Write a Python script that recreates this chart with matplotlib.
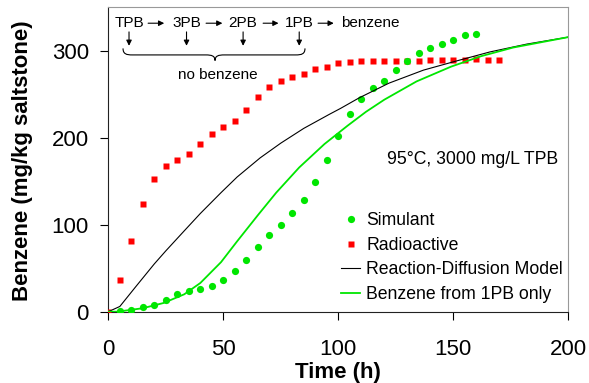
import matplotlib
matplotlib.use("Agg")
import matplotlib.pyplot as plt
from matplotlib.path import Path
from matplotlib.patches import PathPatch
from matplotlib.lines import Line2D

plt.rcParams["font.family"] = ["Liberation Sans", "DejaVu Sans"]

C_GREEN = "#00e600"
C_RED = "#ff0000"

# --- data ------------------------------------------------------------------
rad_time = [0, 5, 10, 15, 20, 25, 30, 35, 40, 45, 50, 55, 60, 65, 70, 75, 80, 85,
            90, 95, 100, 105, 110, 115, 120, 125, 130, 135, 140, 145, 150, 155,
            160, 165, 170]
rad_benz = [0, 36, 81, 124, 153, 168, 174, 181, 193, 204, 212, 219, 232, 247, 259,
            265, 270, 274, 279, 282, 286, 287, 288, 288.5, 288.5, 288.5, 289, 289,
            290, 290, 290, 290, 291, 290, 290]

sim_time = [5, 10, 15, 20, 25, 30, 35, 40, 45, 50, 55, 60, 65, 70, 75, 80, 85, 90,
            95, 100, 105, 110, 115, 120, 125, 130, 135, 140, 145, 150, 155, 160]
sim_benz = [1, 2, 5, 8, 14, 20, 24, 26, 30, 36, 47, 60, 74, 88, 100, 114, 129, 149,
            174, 202, 227, 245, 257, 266, 278, 289, 298, 303, 308, 313, 318, 320]

rd_time = [0, 5, 12, 20, 25, 33, 40, 49, 56, 66, 75, 85, 96, 101, 109, 122, 137,
           152, 166, 182, 200]
rd_benz = [0, 6, 29, 55, 70, 93, 113, 137, 155, 177, 194, 211, 227, 234, 246, 263,
           278, 289, 299, 308, 316]

pb1_time = [0, 4, 15, 24, 33, 40, 49, 56, 65, 73, 83, 94, 104, 112, 120, 134, 149,
            162, 176, 200]
pb1_benz = [0, 0, 4, 10, 20, 33, 57, 81, 111, 137, 166, 193, 214, 230, 244, 265, 282,
            294, 304, 316]

species = ["TPB", "3PB", "2PB", "1PB"]
species_x = [9, 34, 58.6, 83]

# --- figure ----------------------------------------------------------------
fig = plt.figure(figsize=(5.89, 3.83), dpi=100)
ax = fig.add_axes([0.1839, 0.1862, 0.781, 0.7963])

ax.plot(rad_time, rad_benz, "s", color=C_RED, ms=3.8, mec="none", zorder=3)
ax.plot(sim_time, sim_benz, "o", color=C_GREEN, ms=5.2, mec="none", zorder=4)
ax.plot(rd_time, rd_benz, "-", color="black", lw=0.8, zorder=5)
ax.plot(pb1_time, pb1_benz, "-", color=C_GREEN, lw=1.3, zorder=6)

ax.set_xlim(0, 200)
ax.set_ylim(0, 351)
ax.set_xticks([0, 50, 100, 150, 200])
ax.set_yticks([0, 100, 200, 300])
ax.tick_params(direction="out", length=6, width=0.8, labelsize=16)
ax.tick_params(axis="x", pad=14)
ax.tick_params(axis="y", pad=8)

for s in ["left", "bottom"]:
    ax.spines[s].set_color("#222222")
for s in ["top", "right"]:
    ax.spines[s].set_color("#999999")

ax.set_xlabel("Time (h)", fontsize=16, fontweight="bold")
ax.set_ylabel("Benzene (mg/kg saltstone)", fontsize=16, fontweight="bold")
ax.xaxis.set_label_coords(0.4995, -0.198)
ax.xaxis.label.set_va("center")
ax.yaxis.set_label_coords(-0.1876, 0.494)
ax.yaxis.label.set_va("center")

# --- reaction scheme --------------------------------------------------------
arr = dict(arrowstyle="-|>", color="black", lw=0.8, mutation_scale=8,
           shrinkA=0, shrinkB=0)
for name, x in zip(species, species_x):
    ax.text(x, 332, name, fontsize=11, ha="center", va="center")
    ax.annotate("", xy=(x, 306), xytext=(x, 322), arrowprops=arr)
ax.text(101.2, 332, "benzene", fontsize=11, ha="left", va="center")
for x0, x1 in [(17.3, 24.3), (42.5, 49.6), (67.3, 74.0), (91.2, 98.0)]:
    ax.annotate("", xy=(x1, 332), xytext=(x0, 332), arrowprops=arr)

# curly brace under the intermediates
x0, x1, xm = 6.4, 85.5, 46.4
ytop, yh, ytip = 303, 295.5, 289
verts = [(x0, ytop), (x0, yh + 1), (x0 + 1.5, yh), (x0 + 4, yh),
         (xm - 4, yh),
         (xm - 1.5, yh), (xm, yh - 1), (xm, ytip),
         (xm, yh - 1), (xm + 1.5, yh), (xm + 4, yh),
         (x1 - 4, yh),
         (x1 - 1.5, yh), (x1, yh + 1), (x1, ytop)]
codes = [Path.MOVETO, Path.CURVE4, Path.CURVE4, Path.CURVE4,
         Path.LINETO,
         Path.CURVE4, Path.CURVE4, Path.CURVE4,
         Path.CURVE4, Path.CURVE4, Path.CURVE4,
         Path.LINETO,
         Path.CURVE4, Path.CURVE4, Path.CURVE4]
ax.add_patch(PathPatch(Path(verts, codes), fill=False, lw=0.8, color="black"))
ax.text(47.7, 272, "no benzene", fontsize=11, ha="center", va="center")

ax.text(195.5, 175, "95°C, 3000 mg/L TPB", fontsize=12.7, ha="right", va="center")

# --- legend -----------------------------------------------------------------
handles = [
    Line2D([], [], ls="none", marker="o", color=C_GREEN, ms=5.2, mec="none"),
    Line2D([], [], ls="none", marker="s", color=C_RED, ms=3.8, mec="none"),
    Line2D([], [], color="black", lw=0.8),
    Line2D([], [], color=C_GREEN, lw=1.3),
]
labels = ["Simulant", "Radioactive", "Reaction-Diffusion Model",
          "Benzene from 1PB only"]
ax.legend(handles, labels, loc="lower right", bbox_to_anchor=(0.9885, 0.0285),
          frameon=False, fontsize=12.7, handlelength=1.1, handletextpad=0.35,
          labelspacing=0.43, borderpad=0, borderaxespad=0)

fig.savefig("out.png", dpi=100)
